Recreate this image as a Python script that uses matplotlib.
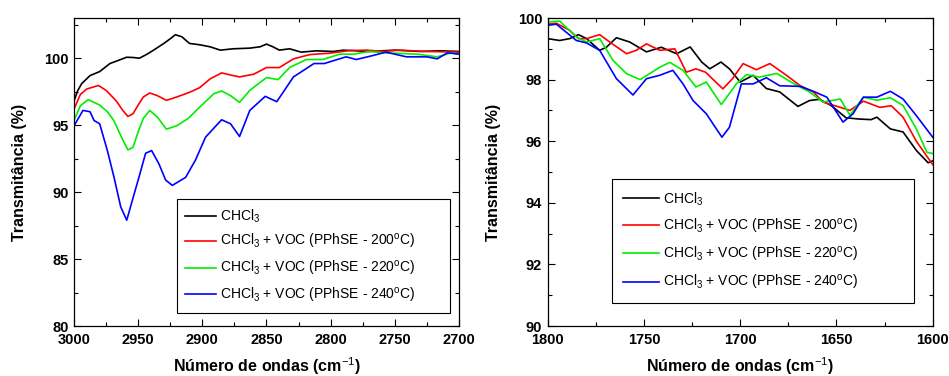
import matplotlib
matplotlib.use("Agg")
import matplotlib.pyplot as plt
from matplotlib.ticker import MultipleLocator

plt.rcParams['font.family'] = ['Liberation Sans', 'DejaVu Sans']
plt.rcParams['mathtext.fontset'] = 'custom'
plt.rcParams['mathtext.rm'] = 'Liberation Sans'
plt.rcParams['mathtext.it'] = 'Liberation Sans:italic'
plt.rcParams['mathtext.bf'] = 'Liberation Sans:bold'

labels = ['CHCl$_3$',
          'CHCl$_3$ + VOC (PPhSE - 200$^{\\mathrm{o}}$C)',
          'CHCl$_3$ + VOC (PPhSE - 220$^{\\mathrm{o}}$C)',
          'CHCl$_3$ + VOC (PPhSE - 240$^{\\mathrm{o}}$C)']
colors = ['black', 'red', '#00ee00', 'blue']

# ---- Left panel (3000-2700 cm-1) ----
L_black_x = [3000, 2997, 2994, 2987.5, 2980, 2972, 2965, 2959, 2954, 2949, 2943, 2938, 2930, 2925, 2921, 2916, 2910, 2902, 2894, 2886, 2876, 2863, 2855, 2850, 2845, 2840, 2832, 2823, 2811, 2798, 2790, 2770, 2750, 2730, 2715, 2700]
L_black_y = [96.8, 97.6, 98.1, 98.7, 99.0, 99.6, 99.85, 100.07, 100.05, 100.0, 100.3, 100.6, 101.1, 101.45, 101.75, 101.6, 101.1, 101.0, 100.85, 100.6, 100.7, 100.75, 100.85, 101.05, 100.85, 100.6, 100.7, 100.45, 100.55, 100.5, 100.6, 100.5, 100.6, 100.5, 100.55, 100.5]

L_red_x = [3000, 2995, 2990, 2981, 2975, 2967, 2962, 2958, 2954, 2950, 2946, 2941, 2935, 2928, 2920, 2910, 2902, 2894, 2885, 2876, 2871, 2860, 2850, 2840, 2829, 2816, 2801, 2785, 2772, 2759, 2746, 2725, 2700]
L_red_y = [96.2, 97.3, 97.7, 97.96, 97.6, 96.8, 96.1, 95.65, 95.85, 96.5, 97.1, 97.4, 97.2, 96.85, 97.1, 97.45, 97.8, 98.45, 98.9, 98.7, 98.6, 98.8, 99.3, 99.3, 99.95, 100.27, 100.37, 100.57, 100.6, 100.5, 100.6, 100.5, 100.45]

L_green_x = [3000, 2995, 2989, 2980, 2974, 2969, 2963, 2958, 2954, 2950, 2946, 2941, 2935, 2928, 2920, 2911, 2902, 2891, 2885, 2878, 2871, 2863, 2850, 2841, 2832, 2819, 2806, 2793, 2782, 2770, 2757, 2733, 2717, 2706, 2700]
L_green_y = [95.35, 96.45, 96.9, 96.5, 96.0, 95.35, 94.1, 93.15, 93.35, 94.5, 95.5, 96.1, 95.6, 94.7, 94.95, 95.5, 96.35, 97.35, 97.55, 97.2, 96.7, 97.6, 98.55, 98.4, 99.3, 99.9, 99.9, 100.3, 100.3, 100.5, 100.4, 100.3, 100.1, 100.4, 100.3]

L_blue_x = [3000, 2993, 2987.5, 2984.4, 2980, 2974, 2968.8, 2963.6, 2958.9, 2954.5, 2949.4, 2944.2, 2939.5, 2933.8, 2928.6, 2923.4, 2913, 2905.3, 2897.5, 2885, 2878, 2871, 2863, 2851, 2842, 2829, 2813, 2805, 2788, 2780, 2767, 2757, 2741, 2725, 2717, 2709, 2700]
L_blue_y = [94.95, 96.1, 96.0, 95.35, 95.1, 93.1, 91.1, 88.9, 87.9, 89.4, 91.1, 92.9, 93.1, 92.1, 90.9, 90.5, 91.1, 92.4, 94.1, 95.4, 95.1, 94.15, 96.1, 97.15, 96.75, 98.6, 99.6, 99.6, 100.1, 99.9, 100.2, 100.45, 100.1, 100.1, 99.95, 100.4, 100.3]

# ---- Right panel (1800-1600 cm-1) ----
R_black_x = [1800, 1793.8, 1788.6, 1784, 1779.8, 1773, 1769.5, 1764.3, 1757.4, 1748.7, 1741, 1733, 1726, 1720, 1715.8, 1710, 1705.6, 1700, 1693.3, 1686.4, 1679.5, 1670, 1664, 1658.8, 1652.8, 1645, 1638.3, 1632, 1629, 1622, 1615.4, 1608.5, 1602.4, 1600]
R_black_y = [99.33, 99.27, 99.33, 99.46, 99.33, 98.95, 99.05, 99.36, 99.22, 98.9, 99.05, 98.84, 99.06, 98.57, 98.35, 98.57, 98.35, 97.92, 98.14, 97.71, 97.6, 97.13, 97.32, 97.36, 97.16, 96.76, 96.72, 96.7, 96.78, 96.4, 96.3, 95.7, 95.3, 95.36]

R_red_x = [1800, 1795.5, 1788.6, 1784, 1779.8, 1773, 1767.8, 1759, 1754, 1748.7, 1741.8, 1734, 1728, 1723, 1718, 1709, 1704, 1698.5, 1691.6, 1684.6, 1676, 1669, 1662, 1657, 1648, 1643, 1636, 1627.5, 1621.5, 1615.4, 1608.5, 1600]
R_red_y = [99.8, 99.83, 99.6, 99.33, 99.33, 99.46, 99.22, 98.84, 98.95, 99.16, 98.95, 99.0, 98.24, 98.35, 98.24, 97.7, 98.03, 98.52, 98.32, 98.52, 98.14, 97.81, 97.6, 97.27, 97.1, 97.0, 97.3, 97.1, 97.15, 96.78, 96.0, 95.24]

R_green_x = [1800, 1793.8, 1785.1, 1779.8, 1773, 1766, 1759, 1752, 1741.8, 1736.6, 1729.7, 1723, 1717.6, 1709.8, 1702, 1696.7, 1690, 1681, 1672.5, 1664, 1657, 1648, 1643, 1636, 1629, 1622, 1615.4, 1608.5, 1603, 1600]
R_green_y = [99.87, 99.9, 99.38, 99.22, 99.33, 98.62, 98.19, 98.0, 98.4, 98.56, 98.3, 97.76, 97.92, 97.19, 97.86, 98.16, 98.08, 98.2, 97.88, 97.6, 97.27, 97.37, 96.84, 97.43, 97.33, 97.41, 97.16, 96.4, 95.64, 95.6]

R_blue_x = [1800, 1795.5, 1785.1, 1779.8, 1773, 1764.3, 1755.7, 1748.7, 1741.8, 1735, 1729.7, 1724.5, 1717.6, 1709.5, 1705.6, 1699.4, 1693.3, 1686.4, 1679.5, 1669, 1662, 1655, 1646.6, 1641.4, 1636, 1629, 1622, 1615.4, 1608.5, 1600]
R_blue_y = [99.76, 99.8, 99.27, 99.19, 98.95, 98.03, 97.5, 98.03, 98.14, 98.3, 97.86, 97.32, 96.89, 96.13, 96.45, 97.86, 97.86, 98.06, 97.8, 97.78, 97.62, 97.43, 96.62, 96.89, 97.43, 97.43, 97.62, 97.37, 96.83, 96.13]

W, H = 949, 376
fig = plt.figure(figsize=(W / 100, H / 100), dpi=100)
axL = fig.add_axes([74 / W, 50 / H, 385 / W, 308 / H])
axR = fig.add_axes([547.7 / W, 50 / H, 385 / W, 308 / H])

left_series = [(L_black_x, L_black_y), (L_red_x, L_red_y), (L_green_x, L_green_y), (L_blue_x, L_blue_y)]
right_series = [(R_black_x, R_black_y), (R_red_x, R_red_y), (R_green_x, R_green_y), (R_blue_x, R_blue_y)]

for ax, series in ((axL, left_series), (axR, right_series)):
    for (x, y), c, lab in zip(series, colors, labels):
        ax.plot(x, y, color=c, lw=1.2, label=lab)

axL.set_xlim(3000, 2700)
axL.set_ylim(80, 103)
axL.xaxis.set_major_locator(MultipleLocator(50))
axL.xaxis.set_minor_locator(MultipleLocator(25))
axL.yaxis.set_major_locator(MultipleLocator(5))
axL.yaxis.set_minor_locator(MultipleLocator(2.5))

axR.set_xlim(1800, 1600)
axR.set_ylim(90, 100)
axR.xaxis.set_major_locator(MultipleLocator(50))
axR.xaxis.set_minor_locator(MultipleLocator(25))
axR.yaxis.set_major_locator(MultipleLocator(2))
axR.yaxis.set_minor_locator(MultipleLocator(1))

for ax in (axL, axR):
    ax.tick_params(which='both', direction='in', top=True, right=True)
    ax.tick_params(which='major', length=5, width=0.8, labelsize=10.5)
    ax.tick_params(axis='x', which='major', pad=5)
    ax.tick_params(axis='y', which='major', pad=4)
    ax.tick_params(which='minor', length=3, width=0.8)
    for t in ax.get_xticklabels() + ax.get_yticklabels():
        t.set_fontweight('bold')
    for s in ax.spines.values():
        s.set_linewidth(0.9)
    ax.set_xlabel('Número de ondas (cm$^{-1}$)', fontsize=11.5, fontweight='bold', labelpad=6)
    ax.set_ylabel('Transmitância (%)', fontsize=11.5, fontweight='bold', labelpad=12)

axL.legend(loc='lower left', bbox_to_anchor=(0.267, 0.042, 0.71, 0.367), mode='expand',
           borderaxespad=0,
           fontsize=10, frameon=True, fancybox=False, edgecolor='black', framealpha=1,
           handlelength=2.2, labelspacing=0.55, borderpad=0.6, handletextpad=0.3)
axR.legend(loc='lower left', bbox_to_anchor=(0.166, 0.075, 0.785, 0.40), mode='expand',
           borderaxespad=0,
           fontsize=10, frameon=True, fancybox=False, edgecolor='black', framealpha=1,
           handlelength=2.6, labelspacing=0.65, borderpad=0.8, handletextpad=0.3)
for leg in (axL.get_legend(), axR.get_legend()):
    leg.get_frame().set_linewidth(0.8)

fig.savefig('out.png', dpi=100)
